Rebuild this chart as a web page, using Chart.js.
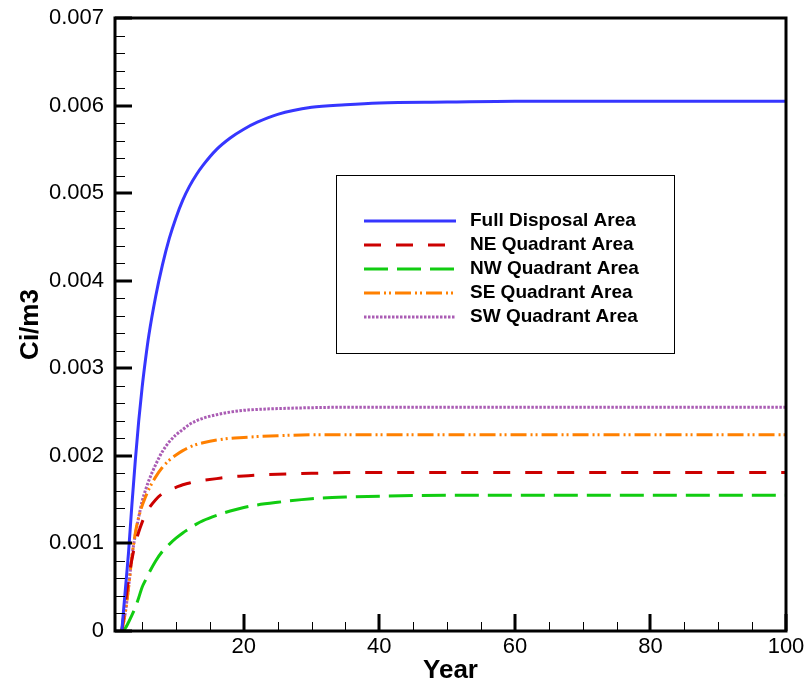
<!DOCTYPE html>
<html>
<head>
<meta charset="utf-8">
<script src="https://cdn.jsdelivr.net/npm/chart.js@4.4.1/dist/chart.umd.min.js"></script>
<style>
  html, body { margin: 0; padding: 0; background: #fff; }
  #wrap { width: 808px; height: 684px; }
</style>
</head>
<body>
<div id="wrap"><canvas id="chart" width="808" height="684"></canvas></div>
<script>
// Datos (Ci/m3 por año)
const years = [2, 2.5, 3, 3.5, 4, 4.5, 5, 5.5, 6, 7, 8, 9, 10, 11, 12, 13, 14, 16, 18, 20, 22, 25, 30, 35, 40, 50, 60, 70, 80, 90, 100];
const fullArea = [0, 0.00045, 0.0009, 0.00145, 0.00195, 0.0024, 0.00278, 0.0031, 0.00338, 0.00382, 0.00418, 0.00448, 0.00472, 0.00492, 0.00508, 0.00521, 0.00532, 0.0055, 0.00563, 0.00573, 0.00581, 0.0059, 0.00598, 0.00601, 0.00603, 0.00604, 0.00605, 0.00605, 0.00605, 0.00605, 0.00605];
const neArea = [0, 0.0003, 0.0006, 0.00082, 0.001, 0.00113, 0.00124, 0.00133, 0.0014, 0.0015, 0.00157, 0.00161, 0.00164, 0.00167, 0.00169, 0.00171, 0.00172, 0.00174, 0.00176, 0.00177, 0.00178, 0.00179, 0.0018, 0.00181, 0.00181, 0.00181, 0.00181, 0.00181, 0.00181, 0.00181, 0.00181];
const nwArea = [0, 0.00003, 0.0001, 0.00018, 0.00027, 0.00038, 0.0005, 0.00058, 0.00066, 0.0008, 0.00091, 0.00099, 0.00106, 0.00112, 0.00117, 0.00122, 0.00126, 0.00132, 0.00137, 0.00141, 0.00144, 0.00147, 0.00151, 0.00153, 0.00154, 0.00155, 0.00155, 0.00155, 0.00155, 0.00155, 0.00155];
const seArea = [0, 0.0002, 0.0005, 0.00085, 0.00112, 0.0013, 0.00143, 0.00153, 0.00162, 0.00176, 0.00187, 0.00195, 0.00201, 0.00206, 0.0021, 0.00213, 0.00215, 0.00218, 0.0022, 0.00221, 0.00222, 0.00223, 0.00224, 0.00224, 0.00224, 0.00224, 0.00224, 0.00224, 0.00224, 0.00224, 0.00224];
const swArea = [0, 0.0002, 0.0005, 0.00085, 0.0011, 0.0013, 0.00148, 0.00161, 0.00172, 0.0019, 0.00205, 0.00216, 0.00224, 0.0023, 0.00236, 0.0024, 0.00243, 0.00247, 0.0025, 0.00252, 0.00253, 0.00254, 0.00255, 0.002555, 0.002555, 0.002555, 0.002555, 0.002555, 0.002555, 0.002555, 0.002555];

const seriesLabels = ['Full Disposal Area', 'NE Quadrant Area', 'NW Quadrant Area', 'SE Quadrant Area', 'SW Quadrant Area'];

// Marcas de los ejes
const xMajorTicks = [20, 40, 60, 80, 100];
const xMinorTicks = [5, 10, 15, 25, 30, 35, 45, 50, 55, 65, 70, 75, 85, 90, 95];
const yMajorTicks = [0, 0.001, 0.002, 0.003, 0.004, 0.005, 0.006, 0.007];

const toPoints = vals => vals.map((v, i) => ({ x: years[i], y: v }));

// Marco, marcas interiores y leyenda
const framePlugin = {
    id: 'framePlugin',
    afterDatasetsDraw(chart) {
        const { ctx, chartArea: a, scales: { x, y } } = chart;
        ctx.save();
        ctx.strokeStyle = '#000';

        // marcas menores
        ctx.lineWidth = 1;
        ctx.beginPath();
        xMinorTicks.forEach(v => {
            const px = Math.round(x.getPixelForValue(v)) + 0.5;
            ctx.moveTo(px, a.bottom);
            ctx.lineTo(px, a.bottom - 9);
        });
        for (let i = 0; i < 35; i++) {
            if (i % 5 === 0) continue;
            const py = Math.round(y.getPixelForValue(i * 0.0002)) + 0.5;
            ctx.moveTo(a.left, py);
            ctx.lineTo(a.left + 10, py);
        }
        ctx.stroke();

        // marcas mayores
        ctx.lineWidth = 3;
        ctx.beginPath();
        xMajorTicks.forEach(v => {
            const px = Math.round(x.getPixelForValue(v));
            ctx.moveTo(px, a.bottom);
            ctx.lineTo(px, a.bottom - 17);
        });
        yMajorTicks.forEach(v => {
            const py = Math.round(y.getPixelForValue(v));
            ctx.moveTo(a.left, py);
            ctx.lineTo(a.left + 17, py);
        });
        ctx.stroke();

        // marco
        ctx.lineWidth = 3;
        ctx.strokeRect(a.left, a.top, a.right - a.left, a.bottom - a.top);

        // leyenda
        const bx = 336, by = 175, bw = 338, bh = 178;
        ctx.fillStyle = '#fff';
        ctx.fillRect(bx, by, bw, bh);
        ctx.lineWidth = 1;
        ctx.strokeRect(bx + 0.5, by + 0.5, bw, bh);
        ctx.font = 'bold 19px "Liberation Sans", Arial, sans-serif';
        ctx.textBaseline = 'middle';
        ctx.textAlign = 'left';
        chart.data.datasets.forEach((ds, i) => {
            const ly = 221 + i * 24;
            ctx.strokeStyle = ds.borderColor;
            ctx.lineWidth = ds.borderWidth;
            ctx.setLineDash(ds.borderDash || []);
            ctx.beginPath();
            ctx.moveTo(364, ly);
            ctx.lineTo(456, ly);
            ctx.stroke();
            ctx.setLineDash([]);
            ctx.fillStyle = '#000';
            ctx.fillText(ds.label, 470, ly);
        });
        ctx.restore();
    }
};

const ctx = document.getElementById('chart').getContext('2d');
new Chart(ctx, {
    type: 'line',
    data: {
        datasets: [
            { label: seriesLabels[0], data: toPoints(fullArea), borderColor: '#3636ff', borderWidth: 3 },
            { label: seriesLabels[1], data: toPoints(neArea), borderColor: '#cc0000', borderWidth: 3, borderDash: [17, 15] },
            { label: seriesLabels[2], data: toPoints(nwArea), borderColor: '#11cc11', borderWidth: 3, borderDash: [24, 9] },
            { label: seriesLabels[3], data: toPoints(seArea), borderColor: '#ff8000', borderWidth: 3, borderDash: [16, 4, 2, 3, 2, 4] },
            { label: seriesLabels[4], data: toPoints(swArea), borderColor: '#aa5cb4', borderWidth: 3, borderDash: [2.5, 1.5] }
        ]
    },
    options: {
        responsive: false,
        animation: false,
        devicePixelRatio: 1,
        layout: { padding: { top: 18, right: 22, left: 0, bottom: 0 } },
        elements: {
            point: { radius: 0 },
            line: { cubicInterpolationMode: 'monotone', fill: false, borderCapStyle: 'butt' }
        },
        plugins: {
            legend: { display: false },
            tooltip: { enabled: false }
        },
        scales: {
            x: {
                type: 'linear',
                min: 1,
                max: 100,
                afterFit(scale) {
                    scale.height = 53;
                    scale.paddingLeft = 0;
                    scale.paddingRight = 0;
                },
                afterBuildTicks(scale) { scale.ticks = xMajorTicks.map(v => ({ value: v })); },
                grid: { display: false, drawTicks: false },
                border: { display: false },
                ticks: {
                    padding: 3,
                    maxRotation: 0,
                    color: '#000',
                    font: { family: '"Liberation Sans", Arial, sans-serif', size: 22 }
                },
                title: {
                    display: true,
                    text: 'Year',
                    color: '#000',
                    padding: 0,
                    font: { family: '"Liberation Sans", Arial, sans-serif', size: 26, weight: 'bold', lineHeight: 1 }
                }
            },
            y: {
                type: 'linear',
                min: 0,
                max: 0.007,
                afterFit(scale) {
                    scale.width = 115;
                    scale.paddingTop = 0;
                    scale.paddingBottom = 0;
                },
                afterBuildTicks(scale) { scale.ticks = yMajorTicks.map(v => ({ value: v })); },
                grid: { display: false, drawTicks: false },
                border: { display: false },
                ticks: {
                    padding: 11,
                    color: '#000',
                    font: { family: '"Liberation Sans", Arial, sans-serif', size: 22 },
                    callback: v => v === 0 ? '0' : v.toFixed(3)
                },
                title: {
                    display: true,
                    text: 'Ci/m3',
                    color: '#000',
                    padding: { top: 15, bottom: 0 },
                    font: { family: '"Liberation Sans", Arial, sans-serif', size: 26, weight: 'bold' }
                }
            }
        }
    },
    plugins: [framePlugin]
});
</script>
</body>
</html>
